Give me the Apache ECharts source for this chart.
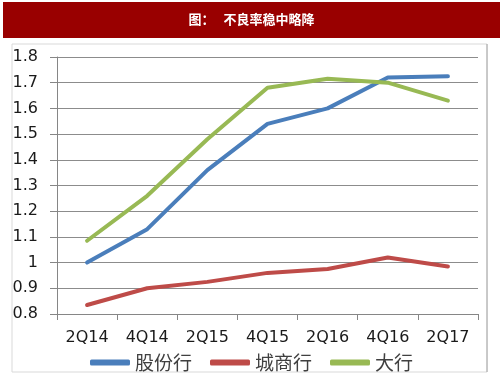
<!DOCTYPE html>
<html>
<head>
<meta charset="utf-8">
<script src="https://cdn.jsdelivr.net/npm/echarts@6/dist/echarts.min.js"></script>
<style>
  html, body { margin: 0; padding: 0; background: #fff; }
  #chart { width: 503px; height: 378px; }
</style>
</head>
<body>
<div id="chart"></div>
<script>
// 不良率 data
var quarters = ['2Q14', '4Q14', '2Q15', '4Q15', '2Q16', '4Q16', '2Q17'];
var gufen = [1.00, 1.13, 1.36, 1.54, 1.60, 1.72, 1.725];
var chengshang = [0.835, 0.90, 0.925, 0.96, 0.975, 1.02, 0.985];
var daxing = [1.085, 1.26, 1.48, 1.68, 1.715, 1.70, 1.63];

var myChart = echarts.init(document.getElementById('chart'));

function lineSeries(name, data, color) {
    return {
        name: name,
        type: 'line',
        data: data,
        symbol: 'none',
        lineStyle: { color: color, width: 4, cap: 'round' },
        itemStyle: { color: color }
    };
}

var option = {
    animation: false,
    graphic: [
        { type: 'rect', shape: { x: 3, y: 2, width: 497, height: 36 }, style: { fill: '#990000' } },
        { type: 'text', left: 'center', top: 13,
          style: { text: '图：   不良率稳中略降', fill: '#fff', font: 'bold 13px "Noto Sans CJK SC"' } },
        { type: 'rect', shape: { x: 12, y: 44, width: 475, height: 328 },
          style: { fill: 'none', stroke: '#d9d9d9', lineWidth: 1 } },
        { type: 'line', shape: { x1: 487, y1: 44, x2: 487, y2: 372 },
          style: { stroke: '#a6a6a6', lineWidth: 1 } }
    ],
    grid: { left: 57, right: 25, top: 57, bottom: 64 },
    legend: {
        top: 348,
        left: 'center',
        itemWidth: 40,
        itemHeight: 6,
        itemGap: 18,
        icon: 'roundRect',
        textStyle: { fontSize: 19, color: '#404040', fontFamily: '"Noto Sans CJK SC"' },
        data: ['股份行', '城商行', '大行']
    },
    xAxis: {
        type: 'category',
        data: quarters,
        boundaryGap: true,
        axisLine: { lineStyle: { color: '#868686', width: 1 } },
        axisTick: { show: true, length: 6, lineStyle: { color: '#868686' } },
        axisLabel: { fontSize: 16, color: '#1a1a1a', margin: 16, fontFamily: 'DejaVu Sans' }
    },
    yAxis: {
        type: 'value',
        min: 0.8,
        max: 1.8,
        interval: 0.1,
        axisLine: { show: true, lineStyle: { color: '#868686', width: 1 } },
        axisTick: { show: true, inside: false, length: 7, lineStyle: { color: '#868686' } },
        axisLabel: {
            fontSize: 16, color: '#1a1a1a', margin: 19, fontFamily: 'DejaVu Sans',
            formatter: function (v) { return String(Math.round(v * 10) / 10); }
        },
        splitLine: { lineStyle: { color: '#8c8c8c', width: 1 } }
    },
    series: [
        lineSeries('股份行', gufen, '#4a7ebb'),
        lineSeries('城商行', chengshang, '#be4b48'),
        lineSeries('大行', daxing, '#98b954')
    ]
};

myChart.setOption(option);
</script>
</body>
</html>
